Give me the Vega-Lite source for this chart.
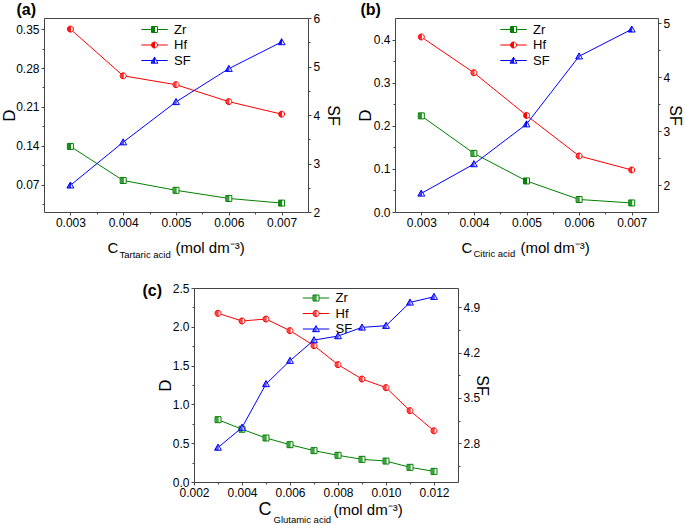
{
  "$schema": "https://vega.github.io/schema/vega-lite/v6.json",
  "padding": {"left": 0, "top": 0, "right": 0, "bottom": 0},
  "config": {
    "font": "Liberation Sans",
    "view": {"stroke": "#444", "strokeWidth": 1},
    "axis": {"grid": false, "domain": false, "tickColor": "#444", "tickSize": 3, "labelFont": "Liberation Sans", "labelFontSize": 12, "labelColor": "#000", "labelPadding": 2, "titleFont": "Liberation Sans", "titleFontWeight": "normal", "titleColor": "#000", "labelFlush": false, "labelOverlap": false},
    "legend": {"orient": "none", "title": null, "padding": 0, "labelFont": "Liberation Sans", "labelFontSize": 13, "labelColor": "#000", "labelOffset": 13, "rowPadding": 1.5, "symbolSize": 36, "symbolStrokeWidth": 1, "labelLimit": 100}
  },
  "datasets": {
    "d": [
      {"p": "a", "c": 0.003, "s": "Zr", "v": 0.139},
      {"p": "a", "c": 0.004, "s": "Zr", "v": 0.0777},
      {"p": "a", "c": 0.005, "s": "Zr", "v": 0.060},
      {"p": "a", "c": 0.006, "s": "Zr", "v": 0.0454},
      {"p": "a", "c": 0.007, "s": "Zr", "v": 0.037},
      {"p": "a", "c": 0.003, "s": "Hf", "v": 0.350},
      {"p": "a", "c": 0.004, "s": "Hf", "v": 0.266},
      {"p": "a", "c": 0.005, "s": "Hf", "v": 0.250},
      {"p": "a", "c": 0.006, "s": "Hf", "v": 0.2195},
      {"p": "a", "c": 0.007, "s": "Hf", "v": 0.197},
      {"p": "a", "c": 0.003, "s": "SF", "v": 2.55},
      {"p": "a", "c": 0.004, "s": "SF", "v": 3.44},
      {"p": "a", "c": 0.005, "s": "SF", "v": 4.27},
      {"p": "a", "c": 0.006, "s": "SF", "v": 4.955},
      {"p": "a", "c": 0.007, "s": "SF", "v": 5.505},
      {"p": "b", "c": 0.003, "s": "Zr", "v": 0.223},
      {"p": "b", "c": 0.004, "s": "Zr", "v": 0.136},
      {"p": "b", "c": 0.005, "s": "Zr", "v": 0.072},
      {"p": "b", "c": 0.006, "s": "Zr", "v": 0.029},
      {"p": "b", "c": 0.007, "s": "Zr", "v": 0.021},
      {"p": "b", "c": 0.003, "s": "Hf", "v": 0.406},
      {"p": "b", "c": 0.004, "s": "Hf", "v": 0.323},
      {"p": "b", "c": 0.005, "s": "Hf", "v": 0.224},
      {"p": "b", "c": 0.006, "s": "Hf", "v": 0.130},
      {"p": "b", "c": 0.007, "s": "Hf", "v": 0.0975},
      {"p": "b", "c": 0.003, "s": "SF", "v": 1.845},
      {"p": "b", "c": 0.004, "s": "SF", "v": 2.39},
      {"p": "b", "c": 0.005, "s": "SF", "v": 3.13},
      {"p": "b", "c": 0.006, "s": "SF", "v": 4.39},
      {"p": "b", "c": 0.007, "s": "SF", "v": 4.89},
      {"p": "c", "c": 0.003, "s": "Zr", "v": 0.803},
      {"p": "c", "c": 0.004, "s": "Zr", "v": 0.68},
      {"p": "c", "c": 0.005, "s": "Zr", "v": 0.567},
      {"p": "c", "c": 0.006, "s": "Zr", "v": 0.481},
      {"p": "c", "c": 0.007, "s": "Zr", "v": 0.404},
      {"p": "c", "c": 0.008, "s": "Zr", "v": 0.344},
      {"p": "c", "c": 0.009, "s": "Zr", "v": 0.292},
      {"p": "c", "c": 0.010, "s": "Zr", "v": 0.27},
      {"p": "c", "c": 0.011, "s": "Zr", "v": 0.189},
      {"p": "c", "c": 0.012, "s": "Zr", "v": 0.137},
      {"p": "c", "c": 0.003, "s": "Hf", "v": 2.174},
      {"p": "c", "c": 0.004, "s": "Hf", "v": 2.075},
      {"p": "c", "c": 0.005, "s": "Hf", "v": 2.10},
      {"p": "c", "c": 0.006, "s": "Hf", "v": 1.95},
      {"p": "c", "c": 0.007, "s": "Hf", "v": 1.757},
      {"p": "c", "c": 0.008, "s": "Hf", "v": 1.512},
      {"p": "c", "c": 0.009, "s": "Hf", "v": 1.327},
      {"p": "c", "c": 0.010, "s": "Hf", "v": 1.216},
      {"p": "c", "c": 0.011, "s": "Hf", "v": 0.919},
      {"p": "c", "c": 0.012, "s": "Hf", "v": 0.66},
      {"p": "c", "c": 0.003, "s": "SF", "v": 2.733},
      {"p": "c", "c": 0.004, "s": "SF", "v": 3.042},
      {"p": "c", "c": 0.005, "s": "SF", "v": 3.716},
      {"p": "c", "c": 0.006, "s": "SF", "v": 4.076},
      {"p": "c", "c": 0.007, "s": "SF", "v": 4.395},
      {"p": "c", "c": 0.008, "s": "SF", "v": 4.457},
      {"p": "c", "c": 0.009, "s": "SF", "v": 4.591},
      {"p": "c", "c": 0.010, "s": "SF", "v": 4.617},
      {"p": "c", "c": 0.011, "s": "SF", "v": 4.977},
      {"p": "c", "c": 0.012, "s": "SF", "v": 5.065}
    ]
  },
  "spacing": 22,
  "resolve": {"scale": {"color": "independent", "shape": "independent"}, "legend": {"color": "independent", "shape": "independent"}},
  "vconcat": [
    {
      "spacing": 13,
      "resolve": {"scale": {"color": "independent", "shape": "independent"}, "legend": {"color": "independent", "shape": "independent"}},
      "hconcat": [
        {
          "width": 264, "height": 194,
          "data": {"name": "d"},
          "transform": [{"filter": "datum.p === 'a'"}],
          "resolve": {"scale": {"y": "independent"}, "axis": {"x": "independent", "y": "independent"}},
          "layer": [
            {
              "transform": [{"filter": "datum.s !== 'SF'"}],
              "encoding": {
                "x": {"field": "c", "type": "quantitative", "scale": {"domain": [0.0025, 0.0075]}, "axis": {"orient": "bottom", "values": [0.003, 0.004, 0.005, 0.006, 0.007], "format": ".3f", "title": "C", "titleFontSize": 15, "titleAlign": "left", "titleBaseline": "alphabetic", "titleX": 63, "titleY": 40}},
                "y": {"field": "v", "type": "quantitative", "scale": {"domain": [0.021, 0.37]}, "axis": {"orient": "left", "values": [0.07, 0.14, 0.21, 0.28, 0.35], "format": ".2f", "title": "D", "titleFontSize": 17, "titlePadding": -3}},
                "color": {"field": "s", "type": "nominal", "scale": {"domain": ["Zr", "Hf", "SF"], "range": ["#008000", "#ff0000", "#0000ff"]}, "legend": {"legendX": 104, "legendY": 5}}
              },
              "layer": [
                {"mark": {"type": "line", "strokeWidth": 1}},
                {"mark": {"type": "point", "fill": "white", "size": 36, "strokeWidth": 1, "opacity": 1}, "encoding": {"shape": {"condition": [{"test": "datum.s === 'Zr'", "value": "M-1,-1H1V1H-1ZM-0.67,-1V1M-0.33,-1V1M0,-1V1"}], "value": "M-1,0A1,1,0,1,0,1,0A1,1,0,1,0,-1,0ZM-0.67,-0.74V0.74M-0.33,-0.94V0.94M0,-1V1"}}}
              ]
            },
            {
              "transform": [{"filter": "datum.s === 'SF'"}],
              "encoding": {
                "x": {"field": "c", "type": "quantitative", "scale": {"domain": [0.0025, 0.0075]}, "axis": {"orient": "bottom", "labels": false, "values": [0.0035, 0.0045, 0.0055, 0.0065], "tickSize": 2, "title": "Tartaric acid", "titleFontSize": 9.5, "titleAlign": "left", "titleBaseline": "alphabetic", "titleX": 75, "titleY": 45}},
                "y": {"field": "v", "type": "quantitative", "scale": {"domain": [2, 6]}, "axis": {"orient": "right", "values": [2, 3, 4, 5, 6], "title": "SF", "titleFontSize": 16, "titlePadding": 5}},
                "color": {"field": "s", "type": "nominal", "scale": {"domain": ["Zr", "Hf", "SF"], "range": ["#008000", "#ff0000", "#0000ff"]}, "legend": {"legendX": 104, "legendY": 5}}
              },
              "layer": [
                {"mark": {"type": "line", "strokeWidth": 1}},
                {"mark": {"type": "point", "fill": "white", "size": 36, "strokeWidth": 1, "opacity": 1, "shape": "M0,-1.1L1.15,0.9H-1.15ZM-0.77,0.23V0.9M-0.38,-0.43V0.9M0,-1.1V0.9"}}
              ]
            },
            {
              "transform": [{"filter": "false"}],
              "mark": {"type": "point", "opacity": 1, "size": 36, "strokeWidth": 1},
              "encoding": {
                "x": {"field": "c", "type": "quantitative", "scale": {"domain": [0.0025, 0.0075]}, "axis": {"orient": "bottom", "labels": false, "ticks": false, "title": "(mol dm⁻³)", "titleFontSize": 15, "titleAlign": "left", "titleBaseline": "alphabetic", "titleX": 131, "titleY": 40}},
                "y": {"field": "v", "type": "quantitative", "scale": {"domain": [2, 6]}, "axis": {"orient": "right", "labels": false, "values": [2.5, 3.5, 4.5, 5.5], "tickSize": 2, "title": null}},
                "color": {"field": "s", "type": "nominal", "scale": {"domain": ["Zr", "Hf", "SF"], "range": ["#008000", "#ff0000", "#0000ff"]}, "legend": {"legendX": 104, "legendY": 5}},
                "shape": {"field": "s", "type": "nominal", "scale": {"domain": ["Zr", "Hf", "SF"], "range": ["M-4.4,0H-1M1,0H4.4M-1,-1H1V1H-1ZM-0.67,-1V1M-0.33,-1V1M0,-1V1", "M-4.4,0H-1M1,0H4.4M-1,0A1,1,0,1,0,1,0A1,1,0,1,0,-1,0ZM-0.67,-0.74V0.74M-0.33,-0.94V0.94M0,-1V1", "M-4.4,0H-0.63M0.63,0H4.4M0,-1.1L1.15,0.9H-1.15ZM-0.77,0.23V0.9M-0.38,-0.43V0.9M0,-1.1V0.9"]}, "legend": {"legendX": 104, "legendY": 5}}
              }
            },
            {
              "transform": [{"filter": "false"}],
              "mark": {"type": "point"},
              "encoding": {
                "x": {"field": "c", "type": "quantitative", "scale": {"domain": [0.0025, 0.0075]}, "axis": null},
                "y": {"field": "v", "type": "quantitative", "scale": {"domain": [0.021, 0.37]}, "axis": {"orient": "left", "labels": false, "values": [0.035, 0.105, 0.175, 0.245, 0.315], "tickSize": 2, "title": "(a)", "titleAngle": 0, "titleX": -28, "titleY": -4, "titleAlign": "left", "titleBaseline": "alphabetic", "titleFontSize": 16, "titleFontWeight": "bold"}}
              }
            }
          ]
        },
        {
          "width": 263, "height": 194,
          "data": {"name": "d"},
          "transform": [{"filter": "datum.p === 'b'"}],
          "resolve": {"scale": {"y": "independent"}, "axis": {"x": "independent", "y": "independent"}},
          "layer": [
            {
              "transform": [{"filter": "datum.s !== 'SF'"}],
              "encoding": {
                "x": {"field": "c", "type": "quantitative", "scale": {"domain": [0.0025, 0.0075]}, "axis": {"orient": "bottom", "values": [0.003, 0.004, 0.005, 0.006, 0.007], "format": ".3f", "title": "C", "titleFontSize": 15, "titleAlign": "left", "titleBaseline": "alphabetic", "titleX": 66, "titleY": 40}},
                "y": {"field": "v", "type": "quantitative", "scale": {"domain": [0, 0.45]}, "axis": {"orient": "left", "values": [0, 0.1, 0.2, 0.3, 0.4], "format": ".1f", "title": "D", "titleFontSize": 17, "titlePadding": -1}},
                "color": {"field": "s", "type": "nominal", "scale": {"domain": ["Zr", "Hf", "SF"], "range": ["#008000", "#ff0000", "#0000ff"]}, "legend": {"legendX": 112, "legendY": 5}}
              },
              "layer": [
                {"mark": {"type": "line", "strokeWidth": 1}},
                {"mark": {"type": "point", "fill": "white", "size": 36, "strokeWidth": 1, "opacity": 1}, "encoding": {"shape": {"condition": [{"test": "datum.s === 'Zr'", "value": "M-1,-1H1V1H-1ZM-0.67,-1V1M-0.33,-1V1M0,-1V1"}], "value": "M-1,0A1,1,0,1,0,1,0A1,1,0,1,0,-1,0ZM-0.67,-0.74V0.74M-0.33,-0.94V0.94M0,-1V1"}}}
              ]
            },
            {
              "transform": [{"filter": "datum.s === 'SF'"}],
              "encoding": {
                "x": {"field": "c", "type": "quantitative", "scale": {"domain": [0.0025, 0.0075]}, "axis": {"orient": "bottom", "labels": false, "values": [0.0035, 0.0045, 0.0055, 0.0065], "tickSize": 2, "title": "Citric acid", "titleFontSize": 9.5, "titleAlign": "left", "titleBaseline": "alphabetic", "titleX": 78, "titleY": 44}},
                "y": {"field": "v", "type": "quantitative", "scale": {"domain": [1.5, 5.1]}, "axis": {"orient": "right", "values": [2, 3, 4, 5], "title": "SF", "titleFontSize": 16, "titlePadding": -3}},
                "color": {"field": "s", "type": "nominal", "scale": {"domain": ["Zr", "Hf", "SF"], "range": ["#008000", "#ff0000", "#0000ff"]}, "legend": {"legendX": 112, "legendY": 5}}
              },
              "layer": [
                {"mark": {"type": "line", "strokeWidth": 1}},
                {"mark": {"type": "point", "fill": "white", "size": 36, "strokeWidth": 1, "opacity": 1, "shape": "M0,-1.1L1.15,0.9H-1.15ZM-0.77,0.23V0.9M-0.38,-0.43V0.9M0,-1.1V0.9"}}
              ]
            },
            {
              "transform": [{"filter": "false"}],
              "mark": {"type": "point", "opacity": 1, "size": 36, "strokeWidth": 1},
              "encoding": {
                "x": {"field": "c", "type": "quantitative", "scale": {"domain": [0.0025, 0.0075]}, "axis": {"orient": "bottom", "labels": false, "ticks": false, "title": "(mol dm⁻³)", "titleFontSize": 15, "titleAlign": "left", "titleBaseline": "alphabetic", "titleX": 125, "titleY": 40}},
                "y": {"field": "v", "type": "quantitative", "scale": {"domain": [1.5, 5.1]}, "axis": {"orient": "right", "labels": false, "values": [2.5, 3.5, 4.5], "tickSize": 2, "title": null}},
                "color": {"field": "s", "type": "nominal", "scale": {"domain": ["Zr", "Hf", "SF"], "range": ["#008000", "#ff0000", "#0000ff"]}, "legend": {"legendX": 112, "legendY": 5}},
                "shape": {"field": "s", "type": "nominal", "scale": {"domain": ["Zr", "Hf", "SF"], "range": ["M-4.4,0H-1M1,0H4.4M-1,-1H1V1H-1ZM-0.67,-1V1M-0.33,-1V1M0,-1V1", "M-4.4,0H-1M1,0H4.4M-1,0A1,1,0,1,0,1,0A1,1,0,1,0,-1,0ZM-0.67,-0.74V0.74M-0.33,-0.94V0.94M0,-1V1", "M-4.4,0H-0.63M0.63,0H4.4M0,-1.1L1.15,0.9H-1.15ZM-0.77,0.23V0.9M-0.38,-0.43V0.9M0,-1.1V0.9"]}, "legend": {"legendX": 112, "legendY": 5}}
              }
            },
            {
              "transform": [{"filter": "false"}],
              "mark": {"type": "point"},
              "encoding": {
                "x": {"field": "c", "type": "quantitative", "scale": {"domain": [0.0025, 0.0075]}, "axis": null},
                "y": {"field": "v", "type": "quantitative", "scale": {"domain": [0, 0.45]}, "axis": {"orient": "left", "labels": false, "values": [0.05, 0.15, 0.25, 0.35], "tickSize": 2, "title": "(b)", "titleAngle": 0, "titleX": -35, "titleY": -4, "titleAlign": "left", "titleBaseline": "alphabetic", "titleFontSize": 16, "titleFontWeight": "bold"}}
              }
            }
          ]
        }
      ]
    },
    {
      "spacing": 0,
      "resolve": {"scale": {"color": "independent", "shape": "independent"}, "legend": {"color": "independent", "shape": "independent"}},
      "hconcat": [
        {"width": 97, "height": 10, "view": {"stroke": null}, "data": {"values": []}, "mark": "point"},
        {
          "width": 264, "height": 194,
          "data": {"name": "d"},
          "transform": [{"filter": "datum.p === 'c'"}],
          "resolve": {"scale": {"y": "independent"}, "axis": {"x": "independent", "y": "independent"}},
          "layer": [
            {
              "transform": [{"filter": "datum.s !== 'SF'"}],
              "encoding": {
                "x": {"field": "c", "type": "quantitative", "scale": {"domain": [0.002, 0.013]}, "axis": {"orient": "bottom", "values": [0.002, 0.004, 0.006, 0.008, 0.010, 0.012], "format": ".3f", "title": "C", "titleFontSize": 18, "titleAlign": "left", "titleBaseline": "alphabetic", "titleX": 64, "titleY": 32}},
                "y": {"field": "v", "type": "quantitative", "scale": {"domain": [0, 2.5]}, "axis": {"orient": "left", "values": [0, 0.5, 1, 1.5, 2, 2.5], "format": ".1f", "title": "D", "titleFontSize": 17, "titlePadding": -2}},
                "color": {"field": "s", "type": "nominal", "scale": {"domain": ["Zr", "Hf", "SF"], "range": ["#008000", "#ff0000", "#0000ff"]}, "legend": {"legendX": 115.5, "legendY": 3.5}}
              },
              "layer": [
                {"mark": {"type": "line", "strokeWidth": 1}},
                {"mark": {"type": "point", "fill": "white", "size": 36, "strokeWidth": 1, "opacity": 1}, "encoding": {"shape": {"condition": [{"test": "datum.s === 'Zr'", "value": "M-1,-1H1V1H-1ZM-0.67,-1V1M-0.33,-1V1M0,-1V1"}], "value": "M-1,0A1,1,0,1,0,1,0A1,1,0,1,0,-1,0ZM-0.67,-0.74V0.74M-0.33,-0.94V0.94M0,-1V1"}}}
              ]
            },
            {
              "transform": [{"filter": "datum.s === 'SF'"}],
              "encoding": {
                "x": {"field": "c", "type": "quantitative", "scale": {"domain": [0.002, 0.013]}, "axis": {"orient": "bottom", "labels": false, "values": [0.003, 0.005, 0.007, 0.009, 0.011], "tickSize": 2, "title": "Glutamic acid", "titleFontSize": 9.5, "titleAlign": "left", "titleBaseline": "alphabetic", "titleX": 79, "titleY": 40}},
                "y": {"field": "v", "type": "quantitative", "scale": {"domain": [2.2, 5.2]}, "axis": {"orient": "right", "values": [2.8, 3.5, 4.2, 4.9], "format": ".1f", "title": "SF", "titleFontSize": 16, "titlePadding": -6}},
                "color": {"field": "s", "type": "nominal", "scale": {"domain": ["Zr", "Hf", "SF"], "range": ["#008000", "#ff0000", "#0000ff"]}, "legend": {"legendX": 115.5, "legendY": 3.5}}
              },
              "layer": [
                {"mark": {"type": "line", "strokeWidth": 1}},
                {"mark": {"type": "point", "fill": "white", "size": 36, "strokeWidth": 1, "opacity": 1, "shape": "M0,-1.1L1.15,0.9H-1.15ZM-0.77,0.23V0.9M-0.38,-0.43V0.9M0,-1.1V0.9"}}
              ]
            },
            {
              "transform": [{"filter": "false"}],
              "mark": {"type": "point", "opacity": 1, "size": 36, "strokeWidth": 1},
              "encoding": {
                "x": {"field": "c", "type": "quantitative", "scale": {"domain": [0.002, 0.013]}, "axis": {"orient": "bottom", "labels": false, "ticks": false, "title": "(mol dm⁻³)", "titleFontSize": 15, "titleAlign": "left", "titleBaseline": "alphabetic", "titleX": 139, "titleY": 32}},
                "y": {"field": "v", "type": "quantitative", "scale": {"domain": [2.2, 5.2]}, "axis": {"orient": "right", "labels": false, "values": [2.45, 3.15, 3.85, 4.55], "tickSize": 2, "title": null}},
                "color": {"field": "s", "type": "nominal", "scale": {"domain": ["Zr", "Hf", "SF"], "range": ["#008000", "#ff0000", "#0000ff"]}, "legend": {"legendX": 115.5, "legendY": 3.5}},
                "shape": {"field": "s", "type": "nominal", "scale": {"domain": ["Zr", "Hf", "SF"], "range": ["M-4.4,0H-1M1,0H4.4M-1,-1H1V1H-1ZM-0.67,-1V1M-0.33,-1V1M0,-1V1", "M-4.4,0H-1M1,0H4.4M-1,0A1,1,0,1,0,1,0A1,1,0,1,0,-1,0ZM-0.67,-0.74V0.74M-0.33,-0.94V0.94M0,-1V1", "M-4.4,0H-0.63M0.63,0H4.4M0,-1.1L1.15,0.9H-1.15ZM-0.77,0.23V0.9M-0.38,-0.43V0.9M0,-1.1V0.9"]}, "legend": {"legendX": 115.5, "legendY": 3.5}}
              }
            },
            {
              "transform": [{"filter": "false"}],
              "mark": {"type": "point"},
              "encoding": {
                "x": {"field": "c", "type": "quantitative", "scale": {"domain": [0.002, 0.013]}, "axis": null},
                "y": {"field": "v", "type": "quantitative", "scale": {"domain": [0, 2.5]}, "axis": {"orient": "left", "labels": false, "values": [0.25, 0.75, 1.25, 1.75, 2.25], "tickSize": 2, "title": "(c)", "titleAngle": 0, "titleX": -52, "titleY": 7, "titleAlign": "left", "titleBaseline": "alphabetic", "titleFontSize": 16, "titleFontWeight": "bold"}}
              }
            }
          ]
        }
      ]
    }
  ]
}
